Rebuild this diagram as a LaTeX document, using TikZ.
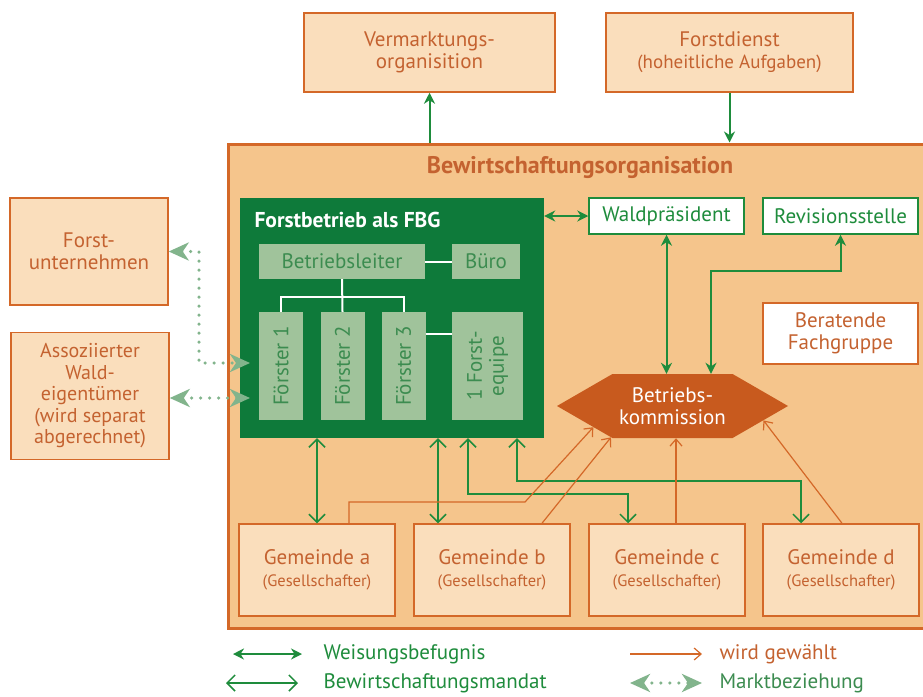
\documentclass[tikz,border=0pt]{standalone}
\usepackage{fontspec}
\setmainfont{PT Sans}
\usepackage{tikz}
\usetikzlibrary{arrows.meta,shapes.symbols}

\definecolor{orgfill}{HTML}{F5C58C}
\definecolor{boxfill}{HTML}{FADEBC}
\definecolor{orangeline}{HTML}{D46828}
\definecolor{orangetext}{HTML}{C46230}
\definecolor{fbggreen}{HTML}{0E7A3A}
\definecolor{arrowgreen}{HTML}{1E8C3C}
\definecolor{innergreen}{HTML}{A0C39B}
\definecolor{innertext}{HTML}{3C8C50}
\definecolor{marktgreen}{HTML}{82B48C}
\definecolor{hexfill}{HTML}{C85A1E}

\newcommand{\kleinschrift}{\fontsize{16.5}{18}\selectfont}

\tikzset{
  wtip/.tip={Stealth[length=11pt,width=11pt]},
  mtip/.tip={Straight Barb[length=8pt,width=16pt]},
  gtip/.tip={Straight Barb[length=7pt,width=12pt]},
  ktip/.tip={Stealth[length=20pt,width=18pt,inset=6pt]},
  normal/.style={font=\fontsize{21}{22}\selectfont},
  aussenbox/.style={draw=orangeline, line width=1.5pt, fill=boxfill, text=orangetext,
    align=center, inner sep=0pt, normal},
  innenbox/.style={fill=innergreen, text=innertext, align=center, inner sep=0pt, normal},
  weissbox/.style={fill=white, line width=1.5pt, align=center, inner sep=0pt, normal},
  weisung/.style={draw=arrowgreen, line width=2pt},
  mandat/.style={draw=arrowgreen, line width=1.5pt, mtip-mtip},
  gewaehlt/.style={draw=orangeline, line width=1.2pt, -gtip},
  markt/.style={draw=marktgreen, line width=3.5pt, line cap=round,
    dash pattern=on 0pt off 9pt, ktip-ktip},
  legende/.style={anchor=west, normal},
}

\begin{document}
\begin{tikzpicture}[x=1pt,y=-1pt]
    \useasboundingbox (0,0) rectangle (923,696);
    \fill[white] (0,0) rectangle (923,696);
    \clip (0,0) rectangle (923,696);

    % oben
    \node[aussenbox, minimum width=251, minimum height=79] (verm) at (429.5,52.5)
        {Vermarktungs-\\organisition};
    \node[aussenbox, minimum width=247, minimum height=79] (forstd) at (729.5,52.5)
        {Forstdienst\\{\fontsize{19}{20}\selectfont(hoheitliche Aufgaben)}};

    % links
    \node[aussenbox, minimum width=158, minimum height=107] (fu) at (89,251.5)
        {Forst-\\unternehmen};
    \node[aussenbox, minimum width=158, minimum height=127, font=\fontsize{20}{21.5}\selectfont] (aw) at (90,396)
        {Assoziierter\\Wald-\\eigentümer\\(wird separat\\abgerechnet)};

    % Bewirtschaftungsorganisation
    \node[draw=orangeline, line width=3pt, fill=orgfill, minimum width=707, minimum height=484] (org) at (581.5,386) {};
    \node[text=orangetext, font=\fontsize{24}{26}\selectfont\bfseries] (orgtitel) at (580,168)
        {Bewirtschaftungsorganisation};

    % Forstbetrieb
    \node[fill=fbggreen, minimum width=304, minimum height=240] (fbg) at (392,318) {};
    \node[anchor=west, text=white, font=\fontsize{21.5}{23}\selectfont\bfseries] (fbgtitel) at (251,220)
        {Forstbetrieb als FBG};

    \node[innenbox, minimum width=166, minimum height=35] (leiter) at (342,261.5) {Betriebsleiter};
    \node[innenbox, minimum width=68, minimum height=35] (buero) at (486,261.5) {Büro};

    \node[innenbox, rotate=90, minimum width=108, minimum height=44] (f1) at (281,366) {Förster 1};
    \node[innenbox, rotate=90, minimum width=108, minimum height=44] (f2) at (342.5,366) {Förster 2};
    \node[innenbox, rotate=90, minimum width=108, minimum height=44] (f3) at (403.5,366) {Förster 3};
    \node[innenbox, rotate=90, minimum width=108, minimum height=71] (equipe) at (487.5,366)
        {1 Forst-\\equipe};

    \draw[white, line width=2pt] (leiter) -- (buero);
    \draw[white, line width=2pt] (leiter.south) -- (f2.east);
    \draw[white, line width=2pt] (f1.east) -- (f1.east |- 0,297) -- (f3.east |- 0,297) -- (f3.east);
    \draw[white, line width=2pt] (f3.south |- 0,334) -- (equipe.north |- 0,334);

    % rechts
    \node[weissbox, draw=arrowgreen, text=arrowgreen, minimum width=155, minimum height=36] (wald) at (666.5,216)
        {Waldpräsident};
    \node[weissbox, draw=arrowgreen, text=arrowgreen, minimum width=155, minimum height=36] (revision) at (840.5,216)
        {Revisionsstelle};
    \node[weissbox, draw=orangeline, text=orangetext, minimum width=155, minimum height=61] (berat) at (840.5,333.5)
        {Beratende\\Fachgruppe};

    \node[signal, signal to=west and east, signal pointer angle=60, fill=hexfill, text=white,
        align=center, inner sep=0pt, minimum width=231, minimum height=64, normal] (komm) at (672.5,406)
        {Betriebs-\\kommission};

    % Gemeinden
    \node[aussenbox, minimum width=156, minimum height=92] (gema) at (317,570)
        {Gemeinde a\\{\kleinschrift (Gesellschafter)}};
    \node[aussenbox, minimum width=156, minimum height=92] (gemb) at (492,570)
        {Gemeinde b\\{\kleinschrift (Gesellschafter)}};
    \node[aussenbox, minimum width=156, minimum height=92] (gemc) at (667,570)
        {Gemeinde c\\{\kleinschrift (Gesellschafter)}};
    \node[aussenbox, minimum width=156, minimum height=92] (gemd) at (841,570)
        {Gemeinde d\\{\kleinschrift (Gesellschafter)}};

    % Weisungsbefugnis
    \draw[weisung, wtip-] (verm.south) -- (verm.south |- org.north);
    \draw[weisung, -wtip] (forstd.south) -- (forstd.south |- org.north);
    \draw[weisung, wtip-wtip] (fbg.east |- wald.west) -- (wald.west);
    \draw[weisung, wtip-wtip] (wald.south) -- (wald.south |- komm.north);
    \draw[weisung, wtip-wtip] (revision.south) |- (711,271) -- (komm.north -| 711,0);

    % Bewirtschaftungsmandat
    \draw[mandat] (fbg.south -| gema.north) -- (gema.north);
    \draw[mandat] (fbg.south -| 438,0) -- (gemb.north -| 438,0);
    \draw[mandat] (fbg.south -| 468,0) |- (628,494) -- (gemc.north -| 628,0);
    \draw[mandat] (fbg.south -| 517,0) |- (801,481) -- (gemd.north -| 801,0);

    % wird gewaehlt
    \draw[gewaehlt] (gema.north -| 349,0) |- (525,502) -- (komm.195);
    \draw[gewaehlt] (gemb.north -| 542,0) -- (komm.207);
    \draw[gewaehlt] (gemc.north -| 676,0) -- (komm.south -| 676,0);
    \draw[gewaehlt] (gemd.north -| 842,0) -- (komm.-9);

    % Marktbeziehung
    \coordinate (m1) at (250,363);
    \coordinate (m2) at (250,398);
    \draw[markt] (fu.east) -| (199,363) -- (m1);
    \draw[markt] (aw.east |- m2) -- (m2);

    % Legende
    \node[legende, text=arrowgreen] (lweis) at (320,654) {Weisungsbefugnis};
    \node[legende, text=arrowgreen] (lmand) at (320,683) {Bewirtschaftungsmandat};
    \node[legende, text=orangetext] (lgew) at (716,654) {wird gewählt};
    \node[legende, text=innertext] (lmarkt) at (716,683) {Marktbeziehung};
    \draw[weisung, wtip-wtip] ([xshift=-87]lweis.west) -- ++(69,0);
    \draw[mandat] ([xshift=-94]lmand.west) -- ++(72,0);
    \draw[gewaehlt] ([xshift=-86]lgew.west) -- ++(72,0);
    \draw[markt] ([xshift=-86]lmarkt.west) -- ++(72,0);
\end{tikzpicture}
\end{document}
